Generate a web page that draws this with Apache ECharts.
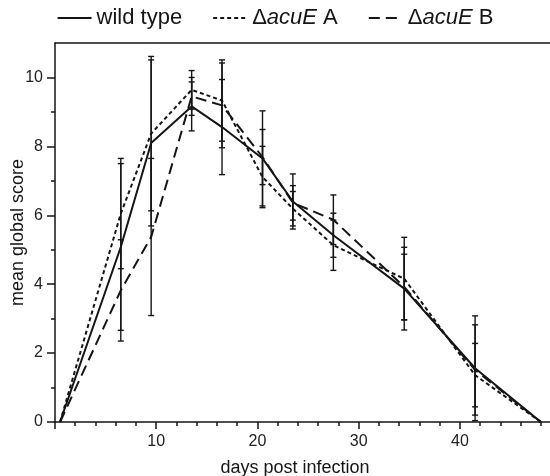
<!DOCTYPE html>
<html>
<head>
<meta charset="utf-8">
<script src="https://cdn.jsdelivr.net/npm/echarts@6/dist/echarts.min.js"></script>
<style>
  html, body { margin: 0; padding: 0; background: #fff; }
  #chart { width: 550px; height: 476px; }
</style>
</head>
<body>
<div id="chart"></div>
<script>
'use strict';
// DATOS
const days = [0.5, 6.5, 9.5, 13.5, 16.5, 20.5, 23.5, 27.5, 34.5, 41.5, 48];
const wildType = [0, 5.08, 8.1, 9.16, 8.56, 7.65, 6.4, 5.42, 3.87, 1.56, 0];
const wildTypeErr = [null, 2.42, 2.41, 0.71, 1.38, 1.38, 0.8, 0.64, 1.2, 1.52, null];
const acuEA = [0, 6.05, 8.37, 9.64, 9.33, 7.11, 6.19, 5.13, 4.16, 1.36, 0];
const acuEAErr = [null, 1.6, 2.24, 0.56, 1.18, 0.89, 0.5, 0.73, 1.2, 0.92, null];
const acuEB = [0, 3.82, 5.37, 9.45, 9.19, 7.69, 6.36, 5.87, 3.92, 1.51, 0];
const acuEBErr = [null, 1.47, 2.28, 0.55, 1.23, 0.8, 0.5, 0.72, 0.95, 1.31, null];
const seriesNames = ['wild type', '\u0394acuE A', '\u0394acuE B'];
const yMajorTicks = [0, 2, 4, 6, 8, 10];
const yMinorTicks = [1, 3, 5, 7, 9];
const xMajorTicks = [0, 10, 20, 30, 40];
const xLabels = [10, 20, 30, 40];
const xMinorTicks = [2, 4, 6, 8, 12, 14, 16, 18, 22, 24, 26, 28, 32, 34, 36, 38, 42, 44, 46, 48];

const INK = '#151515';
const FONT = 'Liberation Sans, Arial, sans-serif';
const myChart = echarts.init(document.getElementById('chart'));

// FUNCIONES
/**
 * @param {Array} means
 * @return {Array}
 */
function toPairs(means) {
  return days.map((d, i) => [d, means[i]]);
}
/**
 * @param {Array} means
 * @param {Array} errs
 * @return {Array}
 */
function toErrorBars(means, errs) {
  const out = [];
  days.forEach((d, i) => {
    if (errs[i] !== null) {
      out.push([d, means[i] - errs[i], means[i] + errs[i]]);
    }
  });
  return out;
}
/**
 * @param {Object} params
 * @param {Object} api
 * @return {Object}
 */
function renderErrorBar(params, api) {
  const x = api.value(0);
  const low = api.coord([x, api.value(1)]);
  const high = api.coord([x, api.value(2)]);
  const half = 3;
  const style = {stroke: INK, lineWidth: 1.4};
  return {
    type: 'group',
    children: [
      {type: 'line', shape: {x1: low[0], y1: low[1], x2: high[0], y2: high[1]}, style},
      {type: 'line', shape: {x1: high[0] - half, y1: high[1], x2: high[0] + half, y2: high[1]}, style},
      {type: 'line', shape: {x1: low[0] - half, y1: low[1], x2: low[0] + half, y2: low[1]}, style},
    ],
  };
}
/**
 * @param {String} name
 * @param {Array} means
 * @param {*} dash
 * @return {Object}
 */
function lineSeries(name, means, dash) {
  return {
    name: name,
    type: 'line',
    data: toPairs(means),
    symbol: 'none',
    lineStyle: {color: INK, width: 2, type: dash},
    itemStyle: {color: INK},
    z: 3,
  };
}
/**
 * @param {Array} means
 * @param {Array} errs
 * @return {Object}
 */
function errorSeries(means, errs) {
  return {
    type: 'custom',
    renderItem: renderErrorBar,
    encode: {x: 0, y: [1, 2]},
    data: toErrorBars(means, errs),
    z: 2,
  };
}

const axisLineStyle = {color: INK, width: 1.5};
const option = {
  backgroundColor: '#fff',
  animation: false,
  textStyle: {fontFamily: FONT},
  legend: {
    top: 2,
    left: 'center',
    itemWidth: 34,
    itemHeight: 14,
    itemGap: 30,
    data: seriesNames,
    itemStyle: {opacity: 0},
    lineStyle: {width: 2},
    textStyle: {
      fontFamily: FONT,
      fontSize: 22,
      color: INK,
      rich: {
        i: {fontFamily: FONT, fontSize: 22, color: INK, fontStyle: 'italic'},
      },
    },
    formatter: (name) => name.replace('acuE', '{i|acuE}'),
  },
  grid: {left: 55, right: -1, top: 43, bottom: 54, outerBoundsMode: 'none', containLabel: false},
  xAxis: [
    {
      type: 'value',
      position: 'bottom',
      min: 0,
      max: 49,
      name: 'days post infection',
      nameLocation: 'middle',
      nameGap: 37,
      nameTextStyle: {fontFamily: FONT, fontSize: 18, color: INK, padding: [0, 16, 0, 0]},
      axisLine: {lineStyle: axisLineStyle},
      axisTick: {customValues: xMajorTicks, length: 7, lineStyle: axisLineStyle},
      axisLabel: {customValues: xLabels, fontFamily: FONT, fontSize: 16, color: '#222', margin: 12},
      splitLine: {show: false},
    },
    {
      type: 'value',
      position: 'bottom',
      min: 0,
      max: 49,
      axisLine: {show: false},
      axisTick: {customValues: xMinorTicks, length: 4, lineStyle: axisLineStyle},
      axisLabel: {show: false},
      splitLine: {show: false},
    },
    {
      type: 'value',
      position: 'top',
      min: 0,
      max: 49,
      axisLine: {lineStyle: axisLineStyle},
      axisTick: {show: false},
      axisLabel: {show: false},
      splitLine: {show: false},
    },
  ],
  yAxis: [
    {
      type: 'value',
      position: 'left',
      min: 0,
      max: 11,
      name: 'mean global score',
      nameLocation: 'middle',
      nameGap: 28,
      nameMoveOverlap: false,
      nameTextStyle: {fontFamily: FONT, fontSize: 18, color: INK},
      axisLine: {lineStyle: axisLineStyle},
      axisTick: {customValues: yMajorTicks, length: 8, lineStyle: axisLineStyle},
      axisLabel: {customValues: yMajorTicks, fontFamily: FONT, fontSize: 16, color: '#222', margin: 12},
      splitLine: {show: false},
    },
    {
      type: 'value',
      position: 'left',
      min: 0,
      max: 11,
      axisLine: {show: false},
      axisTick: {customValues: yMinorTicks, length: 4, lineStyle: axisLineStyle},
      axisLabel: {show: false},
      splitLine: {show: false},
    },
  ],
  series: [
    errorSeries(wildType, wildTypeErr),
    errorSeries(acuEA, acuEAErr),
    errorSeries(acuEB, acuEBErr),
    lineSeries(seriesNames[0], wildType, 'solid'),
    lineSeries(seriesNames[1], acuEA, [4, 3]),
    lineSeries(seriesNames[2], acuEB, [11, 6]),
  ],
};

myChart.setOption(option);
</script>
</body>
</html>
